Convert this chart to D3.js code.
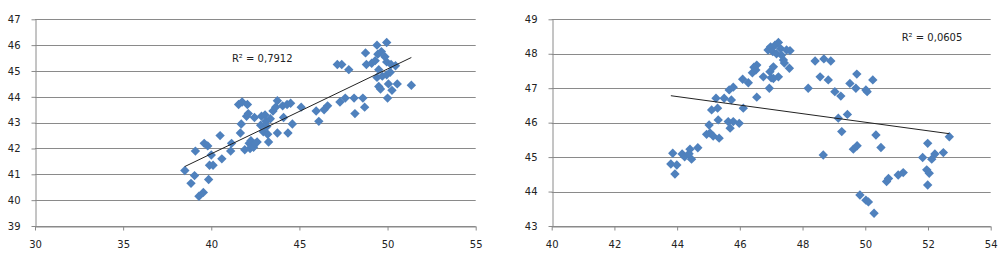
<!DOCTYPE html>
<html>
<head>
<meta charset="utf-8">
<script src="https://cdn.jsdelivr.net/npm/d3@7"></script>
<style>
  body { margin: 0; background: #fff; }
  svg { display: block; }
  text { font-family: "DejaVu Sans", Verdana, sans-serif; font-size: 10px; fill: #222; }
</style>
</head>
<body>
<svg id="chart" width="1004" height="256"></svg>
<script>
// left scatter
var leftX = [38.5, 38.85, 39.05, 39.1, 39.3, 39.55, 39.6, 39.8, 39.85, 39.9, 40.0, 40.1, 40.5, 40.6,
  41.1, 41.15, 41.55, 41.75, 41.65, 41.7, 41.9, 42.0, 42.05, 42.1, 42.15, 42.2, 42.25, 42.3, 42.4,
  42.45, 42.5, 42.6, 42.8, 42.85, 42.95, 43.05, 43.1, 43.15, 43.2, 43.25, 43.35, 43.5, 43.65, 43.75,
  43.75, 44.05, 44.1, 44.3, 44.35, 44.5, 44.6, 45.1, 45.95, 46.1, 46.4, 46.6, 47.15, 47.4, 47.3,
  47.6, 47.8, 48.1, 48.15, 48.6, 48.7, 48.75, 48.8, 49.1, 49.3, 49.4, 49.45, 49.5, 49.4, 49.5, 49.6,
  49.65, 49.7, 49.85, 49.95, 49.95, 49.95, 50.0, 50.05, 50.15, 50.2, 50.25, 50.45, 50.55, 51.35];
var leftY = [41.15, 40.65, 40.95, 41.9, 40.15, 40.3, 42.2, 42.1, 40.8, 41.35, 41.75, 41.35, 42.5, 41.6,
  41.9, 42.2, 43.7, 43.8, 42.6, 42.95, 41.95, 43.25, 43.7, 43.35, 42.2, 42.0, 42.3, 42.1, 42.05,
  43.2, 42.2, 42.25, 42.9, 43.25, 42.65, 43.3, 43.05, 42.85, 42.55, 42.25, 43.15, 43.45, 43.6, 43.85,
  42.6, 43.65, 43.2, 43.7, 42.6, 43.75, 42.95, 43.6, 43.45, 43.05, 43.5, 43.65, 45.25, 45.25, 43.8,
  43.95, 45.05, 43.95, 43.35, 43.95, 43.6, 45.7, 45.25, 45.3, 45.4, 46.0, 45.65, 45.05, 44.75, 44.4, 44.3,
  45.75, 44.8, 45.55, 46.1, 45.35, 44.85, 43.95, 44.5, 44.95, 45.25, 44.25, 45.2, 44.5, 44.45];

// right scatter
var rightX = [43.86, 43.8, 43.93, 43.99, 44.16, 44.24, 44.41, 44.46, 44.38, 44.66, 44.94, 45.05, 45.02,
  45.1, 45.24, 45.29, 45.15, 45.34, 45.31, 45.5, 45.63, 45.69, 45.66, 45.79, 45.73, 45.79, 45.98, 46.11,
  46.09, 46.27, 46.51, 46.4, 46.54, 46.54, 46.45, 46.75, 46.94, 46.96, 47.0, 47.07, 46.9, 46.98, 47.05,
  47.12, 47.23, 47.17, 47.3, 47.33, 47.39, 47.42, 47.23, 47.07, 47.58, 47.49, 47.6, 48.18, 48.4, 48.56,
  48.68, 48.9, 48.82, 48.66, 49.03, 49.22, 49.14, 49.25, 49.43, 49.51, 49.73, 49.7, 49.62, 49.74, 49.83,
  50.02, 50.1, 50.28, 50.02, 50.06, 50.24, 50.34, 50.5, 50.68, 50.74, 51.05, 51.21, 51.83, 51.99, 51.96,
  52.04, 51.99, 52.12, 52.22, 52.49, 52.68];
var rightY = [45.11, 44.8, 44.51, 44.77, 45.09, 45.01, 45.23, 44.94, 45.1, 45.27, 45.66, 45.7, 45.93,
  46.37, 46.71, 46.42, 45.61, 45.55, 46.08, 46.71, 46.03, 45.84, 46.95, 47.03, 46.66, 46.03, 45.98, 46.42,
  47.26, 47.16, 47.53, 47.45, 47.67, 46.74, 47.61, 47.33, 47.0, 47.48, 47.3, 47.62, 48.11, 48.2, 48.06,
  48.25, 48.33, 48.0, 48.15, 47.96, 47.82, 47.73, 47.33, 47.28, 47.58, 48.11, 48.09, 47.0, 47.79, 47.33,
  47.85, 47.79, 47.24, 45.06, 46.9, 46.77, 46.13, 45.74, 46.24, 47.14, 47.41, 47.0, 45.23, 45.33, 43.9,
  43.75, 43.7, 43.37, 46.95, 46.9, 47.24, 45.64, 45.28, 44.29, 44.38, 44.48, 44.55, 44.99, 45.4, 44.63,
  44.53, 44.19, 44.94, 45.09, 45.13, 45.59];

var leftXTicks = [30, 35, 40, 45, 50, 55];
var leftYTicks = [39, 40, 41, 42, 43, 44, 45, 46, 47];
var rightXTicks = [40, 42, 44, 46, 48, 50, 52, 54];
var rightYTicks = [43, 44, 45, 46, 47, 48, 49];
var r2Labels = ["R\u00b2 = 0,7912", "R\u00b2 = 0,0605"];

var svg = d3.select("#chart");

var drawPanel = function(cfg) {
    var x = d3.scaleLinear().domain(d3.extent(cfg.xTicks)).range(cfg.xRange);
    var y = d3.scaleLinear().domain(d3.extent(cfg.yTicks)).range(cfg.yRange);
    var g = svg.append("g");

    // horizontal grid lines
    g.selectAll(".grid").data(cfg.yTicks).enter().append("line")
        .attr("x1", cfg.xRange[0]).attr("x2", cfg.xRange[1])
        .attr("y1", function(d) { return Math.round(y(d)) + 0.5; })
        .attr("y2", function(d) { return Math.round(y(d)) + 0.5; })
        .attr("stroke", "#8a8a8a");

    var yAxis = g.append("g")
        .attr("transform", "translate(" + (Math.round(cfg.xRange[0]) + 0.5) + ",0)")
        .call(d3.axisLeft(y).tickValues(cfg.yTicks).tickFormat(d3.format("d"))
            .tickSize(4).tickPadding(11).tickSizeOuter(0));
    var xAxis = g.append("g")
        .attr("transform", "translate(0," + (Math.round(cfg.yRange[0]) + 0.5) + ")")
        .call(d3.axisBottom(x).tickValues(cfg.xTicks).tickFormat(d3.format("d"))
            .tickSize(4).tickPadding(10).tickSizeOuter(0));
    [yAxis, xAxis].forEach(function(a) {
        a.select(".domain").attr("stroke", "#8a8a8a");
        a.selectAll(".tick line").attr("stroke", "#8a8a8a");
        a.selectAll("text").attr("fill", "#222");
        a.attr("font-family", null).attr("font-size", null);
    });

    // points
    var pts = cfg.xs.map(function(v, i) { return [v, cfg.ys[i]]; });
    var diamond = d3.symbol().type(d3.symbolSquare).size(44);
    g.selectAll(".pt").data(pts).enter().append("path")
        .attr("d", diamond)
        .attr("transform", function(d) {
            return "translate(" + x(d[0]) + "," + y(d[1]) + ") rotate(45)";
        })
        .attr("fill", "#4f81bd");

    // linear trend line
    var mx = d3.mean(cfg.xs), my = d3.mean(cfg.ys);
    var sxy = d3.sum(pts, function(d) { return (d[0] - mx) * (d[1] - my); });
    var sxx = d3.sum(pts, function(d) { return (d[0] - mx) * (d[0] - mx); });
    var slope = sxy / sxx, icpt = my - slope * mx;
    var ext = d3.extent(cfg.xs);
    g.append("line")
        .attr("x1", x(ext[0])).attr("y1", y(icpt + slope * ext[0]))
        .attr("x2", x(ext[1])).attr("y2", y(icpt + slope * ext[1]))
        .attr("stroke", "#222").attr("stroke-width", 1);

    g.append("text")
        .attr("x", x(cfg.labelAt[0])).attr("y", y(cfg.labelAt[1]))
        .text(cfg.label);
};

drawPanel({
    xs: leftX, ys: leftY, xTicks: leftXTicks, yTicks: leftYTicks,
    xRange: [35, 475.7], yRange: [226, 19.3],
    label: r2Labels[0], labelAt: [41.17, 45.33]
});
drawPanel({
    xs: rightX, ys: rightY, xTicks: rightXTicks, yTicks: rightYTicks,
    xRange: [551.7, 990.7], yRange: [226, 19.3],
    label: r2Labels[1], labelAt: [51.16, 48.36]
});
</script>
</body>
</html>
